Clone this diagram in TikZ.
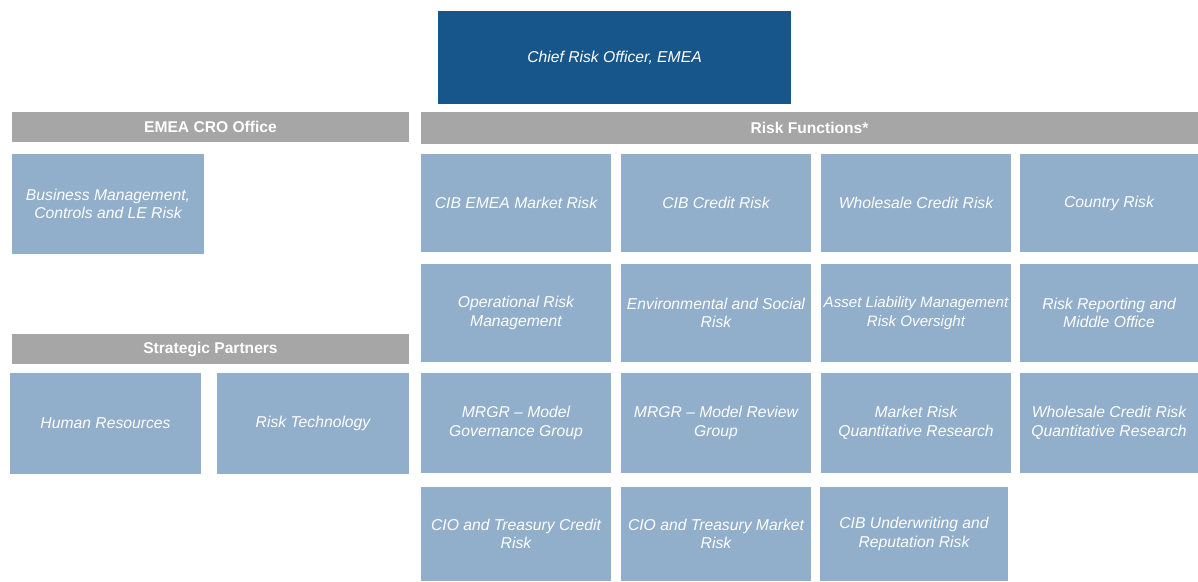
\documentclass[tikz,border=0pt]{standalone}
\usepackage{fontspec}
\setmainfont{Liberation Sans}
\definecolor{crob}{HTML}{17568A}
\definecolor{cellb}{HTML}{91AECB}
\definecolor{hdrg}{HTML}{A6A6A6}
\begin{document}
\begin{tikzpicture}[x=1pt,y=-1pt,
  base/.style={rectangle, inner sep=1pt, outer sep=0pt, text=white, align=center,
    font=\fontsize{15.7}{18.5}\selectfont\itshape},
  cell/.style={base, fill=cellb, minimum width=190pt, minimum height=98pt},
  hdr/.style={rectangle, inner sep=0pt, outer sep=0pt, fill=hdrg, text=white,
    font=\fontsize{15.6}{18}\selectfont\bfseries, minimum height=30pt},
  crobox/.style={base, fill=crob, minimum width=353pt, minimum height=93pt}]
\useasboundingbox (0,0) rectangle (1198,581);

% top
\node[crobox] (cro) at (614.5,57.5) {Chief Risk Officer, EMEA};

% left side
\node[hdr, minimum width=397pt] (hcro) at (210.5,127) {EMEA CRO Office};
\node[cell, minimum width=192pt, minimum height=100pt] (bm) at (108,204) {Business Management,\\Controls and LE Risk};
\node[hdr, minimum width=397pt] (hsp) at (210.5,349) {Strategic Partners};
\node[cell, minimum width=191pt, minimum height=101pt] (hr) at (105.5,423.5) {Human Resources};
\node[cell, minimum width=192pt, minimum height=101pt] (rt) at (313,423.5) {Risk Technology};

% risk functions
\node[hdr, minimum width=777pt, minimum height=32pt] (hrf) at (809.5,128) {Risk Functions*};

% row 1
\node[cell] (r1a) at (516,203) {CIB EMEA Market Risk};
\node[cell] (r1b) at (716,203) {CIB Credit Risk};
\node[cell] (r1c) at (916,203) {Wholesale Credit Risk};
\node[cell, minimum width=178pt] (r1d) at (1109,203) {Country Risk};
% row 2
\node[cell] (r2a) at (516,313) {Operational Risk\\Management};
\node[cell] (r2b) at (716,313) {Environmental and Social\\Risk};
\node[cell, font=\fontsize{15.1}{18.5}\selectfont\itshape] (r2c) at (916,313) {Asset Liability Management\\Risk Oversight};
\node[cell, minimum width=178pt] (r2d) at (1109,313) {Risk Reporting and\\Middle Office};
% row 3
\node[cell, minimum height=100pt] (r3a) at (516,423) {MRGR -- Model\\Governance Group};
\node[cell, minimum height=100pt] (r3b) at (716,423) {MRGR -- Model Review\\Group};
\node[cell, minimum height=100pt] (r3c) at (916,423) {Market Risk\\Quantitative Research};
\node[cell, minimum width=178pt, minimum height=100pt] (r3d) at (1109,423) {Wholesale Credit Risk\\Quantitative Research};
% row 4
\node[cell, minimum height=94pt] (r4a) at (516,534) {CIO and Treasury Credit\\Risk};
\node[cell, minimum height=94pt] (r4b) at (716,534) {CIO and Treasury Market\\Risk};
\node[cell, minimum width=188pt, minimum height=94pt] (r4c) at (914,534) {CIB Underwriting and\\Reputation Risk};
\end{tikzpicture}
\end{document}
